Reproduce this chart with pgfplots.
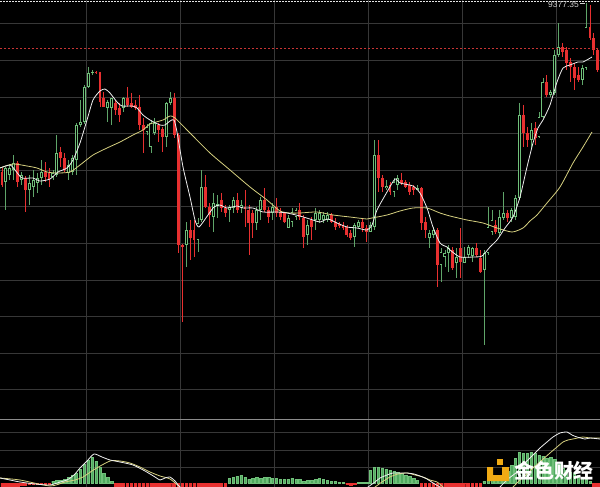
\documentclass[border=0pt]{standalone}
\usepackage{pgfplots}
\pgfplotsset{compat=1.18}
\usepackage{pgfplotstable}
\usepackage{fontspec}
\setmainfont{Liberation Sans}
\newfontfamily\cjk{Noto Sans CJK SC}
\definecolor{cred}{RGB}{232,48,48}
\definecolor{cgreen}{RGB}{112,192,122}
\definecolor{cwick}{RGB}{95,165,105}
\definecolor{gridc}{RGB}{55,55,55}
\definecolor{maw}{RGB}{238,238,238}
\definecolor{may}{RGB}{214,208,128}
\definecolor{dashred}{RGB}{200,52,52}
\definecolor{logoor}{RGB}{240,170,20}
\definecolor{hgreen}{RGB}{80,170,95}

% candles: i O H L C (values in chart pixel units, smaller = higher price)
\pgfplotstableread{
i O H L C
1 182 167 210 168
2 175 165 180 168
3 170 155 180 163
5 180 172 185 175
7 190 175 205 183
8 187 170 197 180
9 183 173 193 178
10 178 160 185 172
13 177 170 180 173
14 175 135 177 153
17 173 160 180 165
18 172 155 175 158
19 160 123 175 125
20 125 100 127 122
21 122 85 124 87
22 87 67 88 73
23 73 70 75 72
27 108 100 122 102
28 108 98 125 98
31 108 97 112 98
37 132 124 135 127
38 147 120 153 123
39 133 118 135 123
42 137 102 147 103
43 103 92 105 98
47 245 222 267 230
50 240 218 252 223
51 220 170 222 187
54 217 193 232 203
55 206 195 218 204
58 210 205 222 207
59 208 197 213 200
61 208 200 213 205
65 223 207 230 210
66 210 197 220 200
69 213 203 220 207
73 228 215 228 218
74 222 208 227 212
75 217 208 220 210
78 235 220 245 225
80 220 208 230 213
81 220 210 223 213
82 220 212 223 215
83 220 212 222 215
90 237 223 247 225
91 227 220 228 222
94 232 222 232 225
95 227 140 230 155
98 188 180 190 186
100 192 178 197 182
101 185 175 190 178
106 190 185 190 188
109 238 230 248 233
110 235 227 238 230
112 265 248 282 252
113 257 250 267 253
114 253 245 272 248
116 263 248 278 257
118 263 247 263 257
119 255 245 258 247
120 256 247 262 248
123 270 250 345 253
124 253 207 255 227
125 232 210 235 220
127 233 210 237 217
128 218 192 220 213
130 218 208 222 210
131 217 195 220 198
132 198 103 200 115
135 140 123 148 130
137 137 112 138 117
138 117 78 118 82
140 95 90 97 92
141 93 50 95 55
142 55 23 57 47
148 80 65 85 68
149 68 3 70 27
}\upT

\pgfplotstableread{
i O H L C
0 172 168 187 185
4 163 161 187 182
6 178 176 212 190
11 172 162 182 177
12 173 168 187 180
15 152 147 167 158
16 158 153 172 170
24 72 71 74 73
25 72 72 107 102
26 98 92 107 107
29 103 100 115 110
30 108 103 122 115
32 98 87 107 105
33 103 93 108 107
34 105 100 110 108
35 107 95 130 125
36 125 118 153 130
40 125 123 142 130
41 129 127 152 137
44 98 93 138 135
45 135 133 253 245
46 245 244 322 247
48 230 220 260 238
49 230 220 257 240
52 187 175 208 207
53 207 203 227 215
56 200 193 212 208
57 208 205 217 213
60 200 193 213 210
62 207 190 227 209
63 210 205 255 223
64 213 210 238 223
67 200 188 212 210
68 210 207 223 217
70 207 198 217 213
71 212 208 220 217
72 213 212 223 222
76 210 203 220 217
77 218 215 248 237
79 220 217 240 227
84 215 213 223 222
85 222 218 230 227
86 224 222 228 226
87 225 222 230 228
88 227 225 237 235
89 233 230 240 238
92 222 218 232 228
93 228 225 242 232
96 155 140 192 178
97 178 175 192 187
99 185 182 195 192
102 180 173 185 183
103 182 180 188 187
104 185 182 195 192
105 187 185 195 190
107 188 187 230 223
108 222 217 238 230
111 230 228 287 265
115 250 247 270 268
117 248 228 278 262
121 248 243 257 255
122 258 250 273 272
126 225 220 234 232
129 213 210 222 218
133 115 105 147 133
134 133 127 147 140
136 128 122 145 138
139 82 75 97 95
143 47 43 57 52
144 50 47 70 63
145 62 58 82 67
146 67 63 90 78
147 75 67 82 80
150 27 5 40 38
151 38 33 55 50
152 50 48 72 70
}\downT

% MACD histogram: i h (h>0 above zero line)
\pgfplotstableread{
i h
13 2
14 3
15 3
16 4
17 6
18 8
19 10
20 14
21 19
22 23
23 26
24 22
25 16
26 10
27 6
28 2
58 5
59 6
60 7
61 8
62 6
63 4
64 5
65 6
66 5
67 6
68 6
69 5
70 5
71 4
72 4
73 4
74 5
75 4
76 4
77 2
78 3
79 3
80 4
81 5
82 4
83 3
84 2
85 2
86 1
87 1
91 1
92 1
93 1
94 13
95 16
96 16
97 15
98 14
99 13
100 12
101 11
102 10
103 8
104 7
105 5
106 3
123 2
124 3
125 5
126 7
127 8
128 10
129 12
130 18
131 25
132 31
133 30
134 30
135 31
136 30
137 28
138 27
139 25
140 26
141 24
142 19
143 15
144 13
145 11
146 10
147 8
148 6
149 4
150 2
}\histG

\pgfplotstableread{
i h
0 -5
1 -5
2 -4
3 -4
4 -3
5 -2
6 -2
7 -1
8 -1
9 -1
10 -1
11 -1
12 -1
29 -6
30 -6
31 -6
32 -6
33 -6
34 -6
35 -6
36 -6
37 -6
38 -6
39 -6
40 -6
41 -6
42 -6
43 -6
44 -6
45 -6
46 -6
47 -6
48 -6
49 -6
50 -6
51 -6
52 -6
53 -6
54 -6
55 -6
56 -6
57 -6
88 -1
89 -2
90 -1
107 -6
108 -6
109 -6
110 -6
111 -6
112 -6
113 -6
114 -6
115 -6
116 -6
117 -6
118 -6
119 -6
120 -6
121 -6
122 -6
151 -4
152 -4
}\histR

\begin{document}
\begin{tikzpicture}
\path[use as bounding box] (0,0) rectangle (600bp,487bp);
\fill[black] (0,0) rectangle (600bp,487bp);

% ---------------- main price panel ----------------
\begin{axis}[
  at={(0,68bp)}, anchor=south west,
  scale only axis, width=600bp, height=419bp,
  xmin=0, xmax=600, ymin=0, ymax=419, y dir=reverse,
  axis line style={draw=none},
  xtick={86,180,274,368,462,556},
  ytick={23,60,97,133,170,206,243,280,316,353,389},
  xticklabels={}, yticklabels={},
  major tick length=0pt,
  grid=major, grid style={draw=gridc, line width=0.9bp},
  clip=true,
]
% wicks
\addplot[draw=none, forget plot, error bars/.cd, y dir=plus, y explicit, error mark=none,
  error bar style={line width=0.8bp, draw=cwick, solid}]
  table[x expr=3.92*\thisrow{i}+1.96, y=H, y error plus expr=\thisrow{L}-\thisrow{H}] {\upT};
\addplot[draw=none, forget plot, error bars/.cd, y dir=plus, y explicit, error mark=none,
  error bar style={line width=0.8bp, draw=cred, solid}]
  table[x expr=3.92*\thisrow{i}+1.96, y=H, y error plus expr=\thisrow{L}-\thisrow{H}] {\downT};
% bodies
\addplot[draw=none, forget plot, error bars/.cd, y dir=plus, y explicit, error mark=none,
  error bar style={line width=2.9bp, draw=cgreen, solid}]
  table[x expr=3.92*\thisrow{i}+1.96, y=C, y error plus expr={max(\thisrow{O}-\thisrow{C},1)}] {\upT};
\addplot[draw=none, forget plot, error bars/.cd, y dir=plus, y explicit, error mark=none,
  error bar style={line width=1.2bp, draw=black, solid}]
  table[x expr=3.92*\thisrow{i}+1.96, y expr=\thisrow{C}+0.8, y error plus expr={max(\thisrow{O}-\thisrow{C}-1.6,0)}] {\upT};
\addplot[draw=none, forget plot, error bars/.cd, y dir=plus, y explicit, error mark=none,
  error bar style={line width=2.9bp, draw=cred, solid}]
  table[x expr=3.92*\thisrow{i}+1.96, y=O, y error plus expr={max(\thisrow{C}-\thisrow{O},1)}] {\downT};

% moving averages
\addplot[may, line width=0.8bp, smooth, tension=0.4] coordinates {
(0,168) (13,164) (27,166) (37,168) (47,172) (57,173) (70,172) (80,165) (93,155)
(107,148) (120,142) (133,135) (143,130) (150,124) (163,120) (170,116) (175,118)
(190,133) (210,153) (230,170) (250,187) (267,200) (280,211) (290,213) (300,213)
(317,212) (333,215) (350,217) (367,219) (372,218) (387,215) (400,211) (413,208)
(427,208) (440,213) (450,216) (467,220) (483,223) (497,228) (512,232) (523,228)
(530,221) (537,215) (547,203) (560,187) (573,163) (583,147) (592,132)};
\addplot[maw, line width=0.8bp, smooth, tension=0.4] coordinates {
(0,168) (10,165) (15,170) (22,178) (33,178) (40,181) (50,179) (58,172) (67,168)
(73,160) (80,143) (87,120) (93,100) (100,91) (105,89) (110,93) (117,102) (122,106)
(132,106) (137,108) (143,115) (150,120) (160,125) (165,125) (170,121) (174,120)
(177,132) (183,167) (190,197) (195,220) (199,227) (208,215) (214,207) (220,205)
(227,208) (237,206) (243,208) (253,208) (263,212) (277,212) (287,213) (300,216)
(313,220) (320,222) (328,219) (337,223) (347,227) (357,228) (367,230) (372,225)
(377,210) (387,192) (395,179) (400,183) (413,186) (420,193) (427,208) (433,227)
(440,243) (447,247) (450,250) (460,257) (473,257) (482,256) (490,247) (497,240)
(505,228) (513,217) (520,197) (527,167) (533,143) (538,128) (543,120) (550,105)
(557,82) (563,68) (570,65) (578,62) (583,62) (592,57)};

% reference lines and label
\draw[dashred, line width=1bp, dash pattern=on 2bp off 2bp] (axis cs:0,49) -- (axis cs:600,49);
\draw[white!90!black, line width=1.1bp, dash pattern=on 1.5bp off 1.5bp] (axis cs:0,1.4) -- (axis cs:600,1.4);
\node[anchor=south east, inner sep=0pt, text=white!82!black, font=\fontsize{8.5}{9}\selectfont] at (axis cs:579,8) {9377.35};
\draw[white!82!black, line width=0.7bp] (axis cs:580,3) -- (axis cs:585,3);
\end{axis}

% ---------------- MACD panel ----------------
\begin{axis}[
  at={(0,0)}, anchor=south west,
  scale only axis, width=600bp, height=68bp,
  xmin=0, xmax=600, ymin=-4, ymax=64,
  axis line style={draw=none},
  xtick={86,180,274,368,462,556},
  ytick={16,33,51},
  xticklabels={}, yticklabels={},
  major tick length=0pt,
  grid=major, grid style={draw=gridc, line width=0.9bp},
  clip=true,
]
\addplot[ybar, bar width=2.4bp, bar shift=0pt, draw=cgreen, fill=hgreen, line width=0.4bp]
  table[x expr=3.92*\thisrow{i}+1.96, y=h] {\histG};
\addplot[ybar, bar width=2.4bp, bar shift=0pt, draw=cred, fill=cred, line width=0.4bp]
  table[x expr=3.92*\thisrow{i}+1.96, y=h] {\histR};
\addplot[may, line width=0.8bp, smooth, tension=0.4] coordinates {
(0,5) (20,3) (50,-3) (65,1) (75,3) (83,6) (95,14) (110,22) (120,22) (130,20) (140,16)
(150,11) (160,7) (170,4) (180,-4) (190,-10) (365,-10) (375,-4) (382,1) (390,6) (398,9)
(407,10) (415,8) (423,6) (430,3) (437,1) (443,-4) (450,-10) (505,-10) (513,-4) (520,3)
(527,9) (533,15) (541,22) (550,30) (557,36) (563,41) (568,43) (573,44) (583,46) (590,45) (600,45)};
\addplot[maw, line width=0.8bp, smooth, tension=0.4] coordinates {
(0,5) (10,3) (20,1) (35,-1) (50,-2) (60,1) (67,3) (74,8) (80,15) (87,22) (94,29) (102,26)
(110,23) (120,21) (133,18) (145,12) (155,6) (160,3) (165,5) (170,6) (175,2) (180,-4)
(190,-10) (360,-10) (368,-4) (375,1) (380,5) (387,8) (393,10) (400,10) (407,10) (414,9)
(420,7) (427,4) (433,0) (440,-4) (450,-10) (495,-10) (500,-4) (508,4) (517,11) (525,20)
(533,28) (540,35) (547,41) (553,46) (560,50) (567,51) (572,48) (577,46) (585,44) (590,45) (600,44)};
% separator
\draw[white!55!black, line width=1.3bp] (axis cs:0,64) -- (axis cs:600,64);
% logo
\fill[logoor] (axis cs:497,24) rectangle (axis cs:503,18);
\fill[logoor] (axis cs:487,16) -- (axis cs:493,16) -- (axis cs:493,8) -- (axis cs:502,8) -- (axis cs:502,16) -- (axis cs:509,16) -- (axis cs:509,2) -- (axis cs:487,2) -- cycle;
\node[text=white, font=\cjk\bfseries\fontsize{20}{21}\selectfont, inner sep=0pt] at (axis cs:554,12) {金色财经};
\end{axis}
\end{tikzpicture}
\end{document}
